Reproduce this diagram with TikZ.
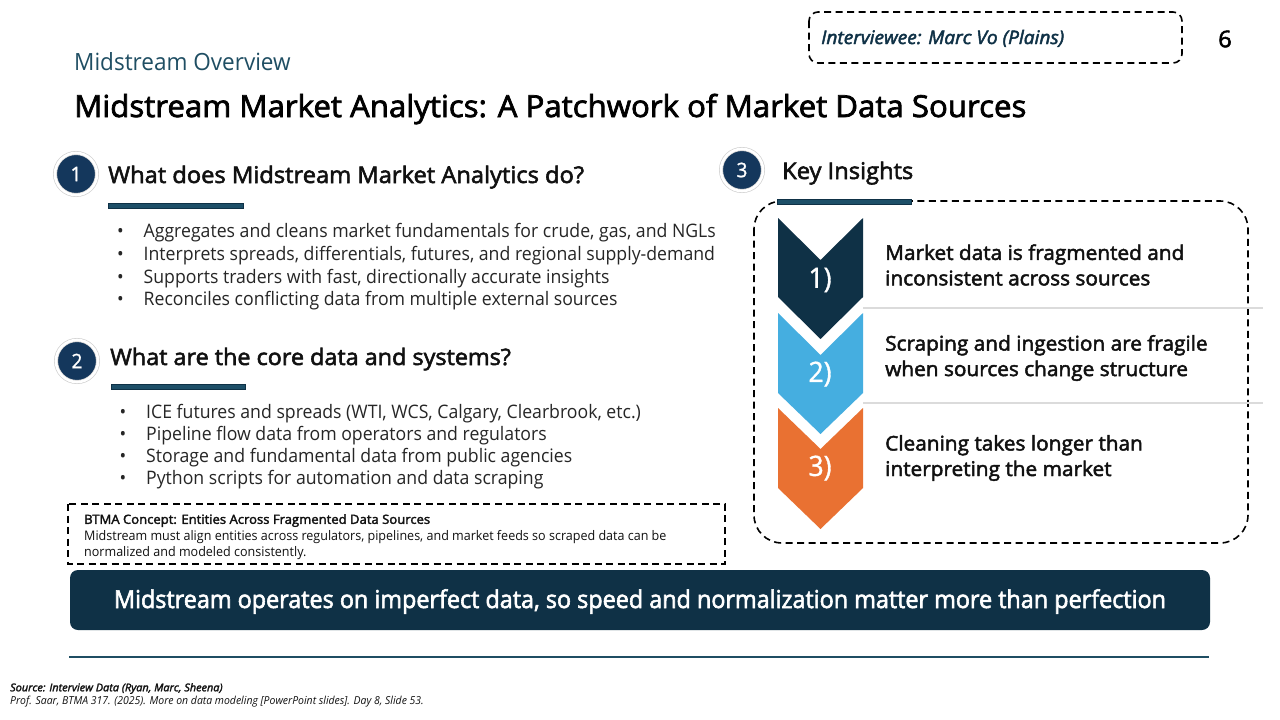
\documentclass[tikz,border=0pt]{standalone}
\usepackage{fontspec}
\setmainfont{Open Sans}[FakeStretch=0.95]
\newfontfamily\semifont{Open Sans}[FakeStretch=1.03,FakeBold=2.4]
\newfontfamily\barfont{Open Sans}[FakeStretch=0.95,FakeBold=2.4]
\newfontfamily\markfont{Open Sans}[FakeStretch=0.95,FakeBold=1.2]
\usepackage{tikz}
\usetikzlibrary{positioning}
\definecolor{deepteal}{HTML}{0F3146}
\definecolor{titleteal}{HTML}{1F4E63}
\definecolor{barteal}{HTML}{1D4F68}
\definecolor{badgenavy}{HTML}{14375C}
\definecolor{skyblue}{HTML}{45AEE0}
\definecolor{burnt}{HTML}{E97132}
\definecolor{inkblack}{HTML}{111111}
\tikzstyle{heading} = [anchor=base west, inner sep=0pt, text=inkblack, font=\semifont\fontsize{23}{28}\selectfont]
\tikzstyle{bulletlist} = [anchor=north west, inner sep=0pt, align=left, text=black!85, font=\fontsize{18.6}{22.8}\selectfont]
\tikzstyle{badge} = [circle, fill=badgenavy, draw=black!18, double=white, double distance=2.6pt, line width=0.7pt, minimum size=42pt, inner sep=0pt, text=white, font=\markfont\fontsize{20}{22}\selectfont]
\tikzstyle{rulebar} = [draw=deepteal, fill=barteal, line width=1pt]
\tikzstyle{dashbox} = [draw=black, line width=1.6pt, dash pattern=on 7pt off 4.5pt]
\tikzstyle{chevron} = [line width=0pt]
\tikzstyle{chevlabel} = [text=white, inner sep=0pt, font=\markfont\fontsize{28}{30}\selectfont]
\tikzstyle{insight} = [anchor=west, inner sep=0pt, align=left, text=inkblack, font=\semifont\fontsize{20.2}{25.5}\selectfont]
\tikzstyle{divider} = [draw=black!14, line width=1.3pt]
\newcommand{\bul}[1]{\makebox[26.5pt][l]{\textbullet}#1}
\begin{document}
\begin{tikzpicture}[x=1pt,y=-1pt]
    \useasboundingbox[fill=white] (0,0) rectangle (1280,720);
    % Place header
    \node [anchor=base west, inner sep=0pt, text=titleteal, font=\fontsize{23.7}{26}\selectfont] (section) at (74,70) {Midstream Overview};
    \node [anchor=base west, inner sep=0pt, text=black, font=\semifont\fontsize{30.3}{34}\selectfont] (title) at (74,117) {Midstream Market Analytics: A Patchwork of Market Data Sources};
    \draw [dashbox, rounded corners=9pt] (809,12) rectangle (1182,63);
    \node [anchor=base west, inner sep=0pt, text=deepteal, font=\semifont\itshape\fontsize{18.6}{20}\selectfont] (interviewee) at (821,44) {Interviewee: Marc Vo (Plains)};
    \node [inner sep=0pt, text=black, font=\semifont\fontsize{23}{26}\selectfont] (page) at (1225,39) {6};
    % Left column
    \node [badge] (one) at (76,174) {1};
    \node [heading] (headone) at (108,183) {What does Midstream Market Analytics do?};
    \draw [rulebar] (108,203) rectangle (243,208);
    \node [bulletlist] (listone) at (117,223) {\bul{Aggregates and cleans market fundamentals for crude, gas, and NGLs}\\
        \bul{Interprets spreads, differentials, futures, and regional supply-demand}\\
        \bul{Supports traders with fast, directionally accurate insights}\\
        \bul{Reconciles conflicting data from multiple external sources}};
    \node [badge] (two) at (77,361) {2};
    \node [heading, font=\semifont\fontsize{22.7}{28}\selectfont] (headtwo) at (110,365) {What are the core data and systems?};
    \draw [rulebar] (111,384) rectangle (245,389);
    \node [bulletlist, font=\fontsize{18.6}{22}\selectfont] (listtwo) at (119.5,404.5) {\bul{ICE futures and spreads (WTI, WCS, Calgary, Clearbrook, etc.)}\\
        \bul{Pipeline flow data from operators and regulators}\\
        \bul{Storage and fundamental data from public agencies}\\
        \bul{Python scripts for automation and data scraping}};
    % Concept box and takeaway bar
    \draw [dashbox] (68,504) rectangle (725,564);
    \node [anchor=north west, inner sep=0pt, align=left, text=inkblack, font=\fontsize{13.2}{16.2}\selectfont] (concept) at (84,514) {{\semifont\fontsize{12.7}{16.2}\selectfont BTMA Concept: Entities Across Fragmented Data Sources}\\
        Midstream must align entities across regulators, pipelines, and market feeds so scraped data can be\\
        normalized and modeled consistently.};
    \node [fill=deepteal, rounded corners=8pt, minimum width=1140pt, minimum height=60pt, inner sep=0pt, text height=20pt, text depth=4pt, text=white, font=\barfont\fontsize{24.6}{28}\selectfont] (takeaway) at (640,600) {Midstream operates on imperfect data, so speed and normalization matter more than perfection};
    \draw [titleteal, line width=1.6pt] (69,657) -- (1209,657);
    % Right column
    \node [badge] (three) at (742,170) {3};
    \node [heading] (headthree) at (782,179) {Key Insights};
    \draw [dashbox, rounded corners=28pt] (754,201) rectangle (1248,543);
    \draw [rulebar] (777,199) rectangle (911,204);
    \draw [divider] (863,308) -- (1263,308);
    \draw [divider] (863,403) -- (1263,403);
    \fill [deepteal, chevron] (778,218) -- (820.5,260) -- (863,218) -- (863,297) -- (820.5,339) -- (778,297) -- cycle;
    \fill [skyblue, chevron] (778,313) -- (820.5,355) -- (863,313) -- (863,393) -- (820.5,434) -- (778,393) -- cycle;
    \fill [burnt, chevron] (778,408) -- (820.5,449) -- (863,408) -- (863,488) -- (820.5,529) -- (778,488) -- cycle;
    \node [chevlabel] (markone) at (820,280) {1)};
    \node [chevlabel] (marktwo) at (820,374) {2)};
    \node [chevlabel] (markthree) at (820,468) {3)};
    \node [insight] (insightone) at (885,265) {Market data is fragmented and\\inconsistent across sources};
    \node [insight] (insighttwo) at (885,358) {Scraping and ingestion are fragile\\when sources change structure};
    \node [insight] (insightthree) at (885,458) {Cleaning takes longer than\\interpreting the market};
    % Footnote
    \node [anchor=north west, inner sep=0pt, align=left, text=inkblack, font=\itshape\fontsize{11}{13}\selectfont] (source) at (10,683) {{\semifont\itshape\fontsize{10.6}{13}\selectfont Source: Interview Data (Ryan, Marc, Sheena)}\\
        Prof. Saar, BTMA 317. (2025). More on data modeling [PowerPoint slides]. Day 8, Slide 53.};
\end{tikzpicture}
\end{document}
